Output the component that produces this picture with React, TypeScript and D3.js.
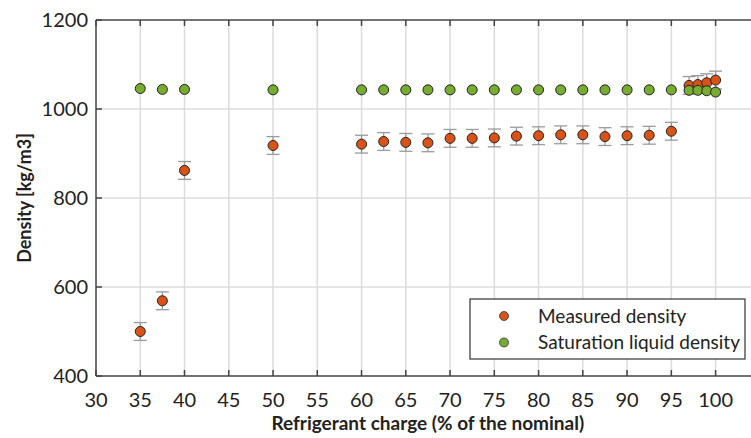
import React from 'react';
import * as d3 from 'd3';

// Measured density with error bars
const measuredCharge = [35, 37.5, 40, 50, 60, 62.5, 65, 67.5, 70, 72.5, 75, 77.5, 80, 82.5, 85, 87.5, 90, 92.5, 95, 97, 98, 99, 100];
const measuredDensity = [500, 569, 862, 918, 921, 927, 925, 924, 934, 934, 935, 939, 940, 942, 942, 938, 940, 941, 950, 1053, 1055, 1059, 1065];
const measuredError = [20, 20, 20, 20, 20, 20, 20, 20, 20, 20, 20, 20, 20, 20, 20, 20, 20, 20, 20, 20, 20, 20, 20];

// Saturation liquid density
const satCharge = [35, 37.5, 40, 50, 60, 62.5, 65, 67.5, 70, 72.5, 75, 77.5, 80, 82.5, 85, 87.5, 90, 92.5, 95, 97, 98, 99, 100];
const satDensity = [1046, 1044, 1044, 1043, 1043, 1043, 1043, 1043, 1043, 1043, 1043, 1043, 1043, 1043, 1043, 1043, 1043, 1043, 1043, 1042, 1042, 1041, 1038];

const xTicks = [30, 35, 40, 45, 50, 55, 60, 65, 70, 75, 80, 85, 90, 95, 100];
const yTicks = [400, 600, 800, 1000, 1200];

const seriesNames = ['Measured density', 'Saturation liquid density'];
const seriesColors = ['#D95319', '#77AC30'];

const W = 751;
const H = 438;
const margin = { top: 20, right: 0, bottom: 62, left: 96 };
const font = 'Lato, "Open Sans", sans-serif';

export default function App() {
  const x = d3.scaleLinear().domain([30, 104]).range([margin.left, W - margin.right]);
  const y = d3.scaleLinear().domain([400, 1200]).range([H - margin.bottom, margin.top]);
  const [x0, x1] = x.range();
  const [yb, yt] = y.range();
  const r = 5;
  const cap = 6.5;

  const measured = measuredCharge.map((c, i) => ({ c, v: measuredDensity[i], e: measuredError[i] }));
  const sat = satCharge.map((c, i) => ({ c, v: satDensity[i] }));

  return (
    <div style={{ position: 'absolute', left: 0, top: 0 }}>
      <svg width={W} height={H} style={{ display: 'block', background: '#fff' }} fontFamily={font}>
        {/* grid */}
        {xTicks.filter(t => t !== 30).map(t => (
          <line key={'gx' + t} x1={x(t)} x2={x(t)} y1={yt} y2={yb} stroke="#dcdcdc" strokeWidth={1.5} />
        ))}
        {yTicks.filter(t => t !== 400 && t !== 1200).map(t => (
          <line key={'gy' + t} x1={x0} x2={x1} y1={y(t)} y2={y(t)} stroke="#dcdcdc" strokeWidth={1.5} />
        ))}

        {/* axes frame */}
        <line x1={x0} x2={x1} y1={yb} y2={yb} stroke="#444" strokeWidth={1.5} />
        <line x1={x0} x2={x1} y1={yt} y2={yt} stroke="#444" strokeWidth={1.5} />
        <line x1={x0} x2={x0} y1={yt} y2={yb} stroke="#444" strokeWidth={1.5} />

        {/* x ticks */}
        {xTicks.map(t => (
          <g key={'xt' + t}>
            <line x1={x(t)} x2={x(t)} y1={yb} y2={yb - 6} stroke="#444" strokeWidth={1.5} />
            <line x1={x(t)} x2={x(t)} y1={yt} y2={yt + 6} stroke="#444" strokeWidth={1.5} />
            <text x={x(t)} y={yb + 31} textAnchor="middle" fontSize={20} fill="#222">{t}</text>
          </g>
        ))}

        {/* y ticks */}
        {yTicks.map(t => (
          <g key={'yt' + t}>
            <line x1={x0} x2={x0 + 6} y1={y(t)} y2={y(t)} stroke="#444" strokeWidth={1.5} />
            <text x={x0 - 8} y={y(t)} dy="0.35em" textAnchor="end" fontSize={20} fill="#222">{t}</text>
          </g>
        ))}

        {/* axis titles */}
        <text x={(x(30) + x(100)) / 2 + 22} y={H - 8} textAnchor="middle" fontSize={19} fontWeight="bold" fill="#222">
          Refrigerant charge (% of the nominal)
        </text>
        <text transform={`translate(31,${(yt + yb) / 2}) rotate(-90)`} textAnchor="middle" fontSize={18} fontWeight="bold" fill="#222">
          Density [kg/m3]
        </text>

        {/* error bars */}
        {measured.map((d, i) => (
          <g key={'eb' + i} stroke="#9a9a9a" strokeWidth={1.3}>
            <line x1={x(d.c)} x2={x(d.c)} y1={y(d.v - d.e)} y2={y(d.v + d.e)} />
            <line x1={x(d.c) - cap} x2={x(d.c) + cap} y1={y(d.v - d.e)} y2={y(d.v - d.e)} />
            <line x1={x(d.c) - cap} x2={x(d.c) + cap} y1={y(d.v + d.e)} y2={y(d.v + d.e)} />
          </g>
        ))}

        {/* measured points */}
        {measured.map((d, i) => (
          <circle key={'m' + i} cx={x(d.c)} cy={y(d.v)} r={r} fill={seriesColors[0]} stroke="#222" strokeWidth={1} />
        ))}
        {/* saturation points */}
        {sat.map((d, i) => (
          <circle key={'s' + i} cx={x(d.c)} cy={y(d.v)} r={r} fill={seriesColors[1]} stroke="#222" strokeWidth={1} />
        ))}

        {/* legend */}
        <g transform="translate(470,299)">
          <rect x={0} y={0} width={275} height={60} fill="#fff" stroke="#333" strokeWidth={1.2} />
          {seriesNames.map((n, i) => (
            <g key={n} transform={`translate(0,${17 + i * 26.5})`}>
              <circle cx={34} cy={0} r={4.5} fill={seriesColors[i]} stroke="#333" strokeWidth={0.8} />
              <text x={68} y={0} dy="0.35em" fontSize={19} fill="#222">{n}</text>
            </g>
          ))}
        </g>
      </svg>
    </div>
  );
}
